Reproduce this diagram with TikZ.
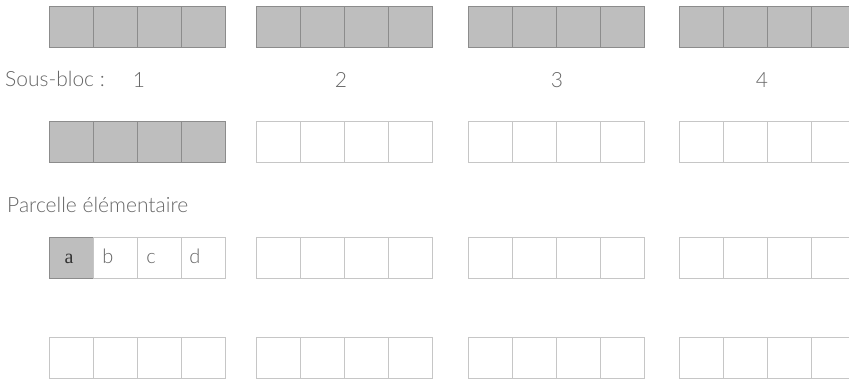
\documentclass[tikz,border=0pt]{standalone}
\usepackage{fontspec}
\setmainfont{Lato}[UprightFont=* Light]
\newfontfamily\serifa{Liberation Serif}
\definecolor{cellgray}{HTML}{BEBEBE}
\definecolor{fullline}{HTML}{8C8C8C}
\definecolor{emptyline}{HTML}{C6C6C6}
\definecolor{txtgray}{HTML}{666666}
\begin{document}
\begin{tikzpicture}[x=1pt,y=-1pt,
  cellbox/.style={minimum width=44pt, minimum height=41pt, inner sep=0pt, outer sep=0pt, anchor=north west},
  cellfull/.style={cellbox, draw=fullline, fill=cellgray, line width=0.8pt},
  cellempty/.style={cellbox, draw=emptyline, line width=0.7pt},
  lbl/.style={text=txtgray, font=\fontsize{21}{25}\selectfont, inner sep=0pt, anchor=base west},
  num/.style={text=txtgray, font=\fontsize{21}{25}\selectfont, inner sep=0pt, anchor=base},
  letter/.style={text=txtgray, font=\fontsize{20}{24}\selectfont, inner sep=0pt, anchor=base}]
\useasboundingbox (0,0) rectangle (849,384);
\clip (0,0) rectangle (849,384);
% row tops
\def\rowA{6}\def\rowB{121}\def\rowC{237}\def\rowD{337}
\foreach \b/\bx in {1/49,2/256,3/468,4/679}{
  \foreach \c in {0,1,2,3}{
    % row 1: all shaded
    \node[cellfull] (r1b\b c\c) at (\bx+44*\c,\rowA) {};
    % row 4: all empty
    \node[cellempty] (r4b\b c\c) at (\bx+44*\c,\rowD) {};
  }
}
% row 2
\foreach \c in {0,1,2,3}{\node[cellfull] (r2b1c\c) at (49+44*\c,\rowB) {};}
\foreach \b/\bx in {2/256,3/468,4/679}{
  \foreach \c in {0,1,2,3}{\node[cellempty] (r2b\b c\c) at (\bx+44*\c,\rowB) {};}
}
% row 3
\node[cellfull] (r3b1c0) at (49,\rowC) {};
\foreach \c in {1,2,3}{\node[cellempty] (r3b1c\c) at (49+44*\c,\rowC) {};}
\foreach \b/\bx in {2/256,3/468,4/679}{
  \foreach \c in {0,1,2,3}{\node[cellempty] (r3b\b c\c) at (\bx+44*\c,\rowC) {};}
}
% labels
\node[lbl] (sousbloc) at (5,86) {Sous-bloc :};
\node[num] (n1) at (139,87) {1};
\node[num] (n2) at (341,87) {2};
\node[num] (n3) at (557,87) {3};
\node[num] (n4) at (762,87) {4};
\node[lbl] (parcelle) at (7,212) {Parcelle élémentaire};
\node[letter, text=black!80] (la) at (69,263) {\serifa a};
\node[letter] (lb) at (108,263) {b};
\node[letter] (lc) at (151,263) {c};
\node[letter] (ld) at (195,263) {d};
\end{tikzpicture}
\end{document}
